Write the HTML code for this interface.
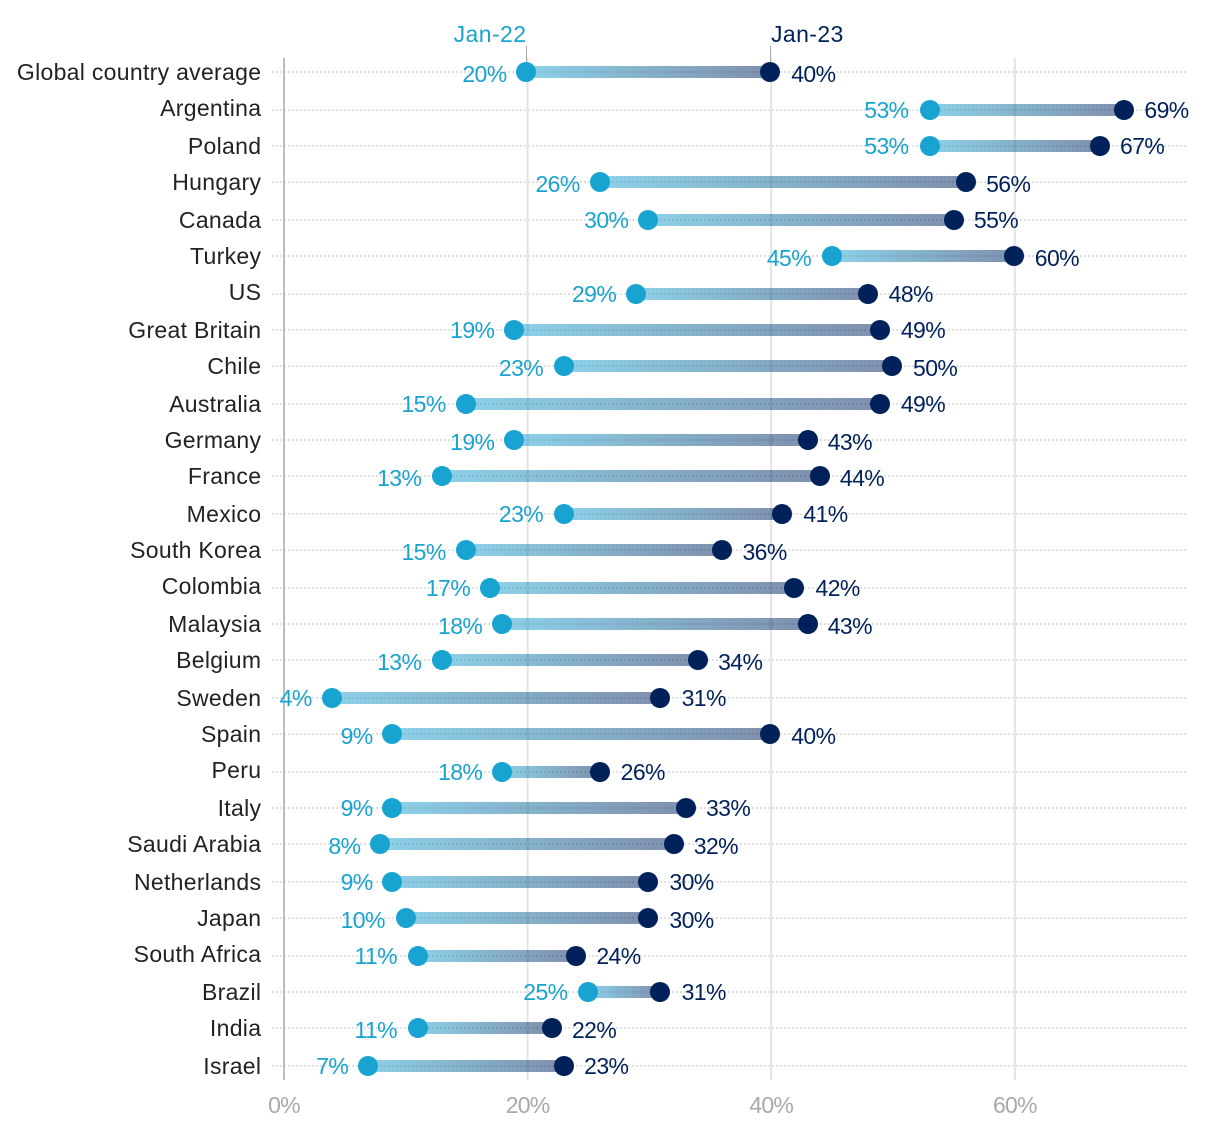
<!DOCTYPE html>
<html>
<head>
<meta charset="utf-8">
<title>Jan-22 vs Jan-23 by country</title>
<style>
html,body{margin:0;padding:0;background:#fff;width:1220px;height:1134px;overflow:hidden}
svg{display:block;font-family:"Liberation Sans",Arial,sans-serif}
</style>
</head>
<body>
<svg id="chart" width="1220" height="1134" viewBox="0 0 1220 1134" xmlns="http://www.w3.org/2000/svg">
<defs>
<linearGradient id="bar-gradient" x1="0" y1="0" x2="1" y2="0">
<stop offset="0" stop-color="#19a3d0" stop-opacity="0.5"/>
<stop offset="1" stop-color="#00215a" stop-opacity="0.5"/>
</linearGradient>
</defs>
</svg>
<script>
const categories = ["Global country average","Argentina","Poland","Hungary","Canada","Turkey","US","Great Britain","Chile","Australia","Germany","France","Mexico","South Korea","Colombia","Malaysia","Belgium","Sweden","Spain","Peru","Italy","Saudi Arabia","Netherlands","Japan","South Africa","Brazil","India","Israel"];
const jan22 = [20,53.1,53.1,26,30,45,29,19,23,15,19,13,23,15,17,18,13,4,9,18,9,8,9,10,11,25,11,7];
const jan23 = [40,69,67,56,55,60,48,49,50,49,43,44,41,36,42,43,34,31,40,26,33,32,30,30,24,31,22,23];
const axisTicks = [0,20,40,60];
const seriesNames = ["Jan-22","Jan-23"];

const NS = "http://www.w3.org/2000/svg";
const svg = document.getElementById("chart");
const BLUE = "#19a3d0", NAVY = "#00215a";
const FS = 23;
function even(v){ return Math.round(v / 2) * 2; }
function xAxis(v){ return 284 + 12.18 * v; }
function xDot(v){ return even(283.3 + 12.18 * v); }
function yRaw(i){ return 72.3 + 36.79 * i; }
function yRow(i){ return even(yRaw(i)); }
function yCat(i){ return even(yRaw(i) - 0.4); }
function yVal(i){ return even(yRaw(i) + 0.9); }
function make(tag, attrs, text){
  const el = document.createElementNS(NS, tag);
  for (const k in attrs) el.setAttribute(k, attrs[k]);
  if (text !== undefined) el.textContent = text;
  svg.appendChild(el);
  return el;
}
const plotTop = 58, plotBottom = 1080;

categories.forEach(function(c, i){
  const y = yRow(i);
  const line = make("line", {x1:272, x2:1188, y1:y, y2:y, stroke:"#e0e0e0", "stroke-width":2, "stroke-dasharray":"2 2"});
  
  
});

axisTicks.forEach(function(t){
  const x = xAxis(t);
  const grid = make("line", {x1:x, x2:x, y1:plotTop, y2:plotBottom, stroke:t === 0 ? "#bdbdbd" : "#e3e3e3", "stroke-width":2});
  
  
  const label = make("text", {x:x, y:1113, "text-anchor":"middle", "font-size":FS, "letter-spacing":"-0.8", fill:"#a9a9a9"}, t + "%");
  
  
});

const firstY = yRow(0);
const tick22 = make("line", {x1:xDot(jan22[0]) + 0.5, x2:xDot(jan22[0]) + 0.5, y1:46, y2:firstY - 8, stroke:"#a9a9a9", "stroke-width":1});


const tick23 = make("line", {x1:xDot(jan23[0]) + 0.5, x2:xDot(jan23[0]) + 0.5, y1:46, y2:firstY - 8, stroke:"#a9a9a9", "stroke-width":1});


const head22 = make("text", {x:xDot(jan22[0]) + 0.4, y:42, "text-anchor":"end", "font-size":FS, "letter-spacing":"0.4", fill:BLUE}, seriesNames[0]);


const head23 = make("text", {x:xDot(jan23[0]) + 1, y:42, "text-anchor":"start", "font-size":FS, "letter-spacing":"0.4", fill:NAVY}, seriesNames[1]);



categories.forEach(function(c, i){
  const y = yRow(i);
  const a = xDot(jan22[i]), b = xDot(jan23[i]);
  const cat = make("text", {x:261.3, y:yCat(i) + 8, "text-anchor":"end", "font-size":FS, "letter-spacing":"0.3", fill:"#222222"}, c);
  
  
  const bar = make("rect", {x:a, y:y - 6, width:b - a, height:12, fill:"url(#bar-gradient)"});
  
  
  const d1 = make("circle", {cx:a, cy:y, r:10, fill:BLUE});
  
  
  const d2 = make("circle", {cx:b, cy:y, r:10, fill:NAVY});
  
  
  const v1 = make("text", {x:xAxis(Math.round(jan22[i])) - 21, y:yVal(i) + 8, "text-anchor":"end", "font-size":FS, "letter-spacing":"-0.6", fill:BLUE}, Math.round(jan22[i]) + "%");
  
  
  const v2 = make("text", {x:xAxis(Math.round(jan23[i])) + 20, y:yVal(i) + 8, "text-anchor":"start", "font-size":FS, "letter-spacing":"-0.6", fill:NAVY}, Math.round(jan23[i]) + "%");
  
  
});
</script>
</body>
</html>
